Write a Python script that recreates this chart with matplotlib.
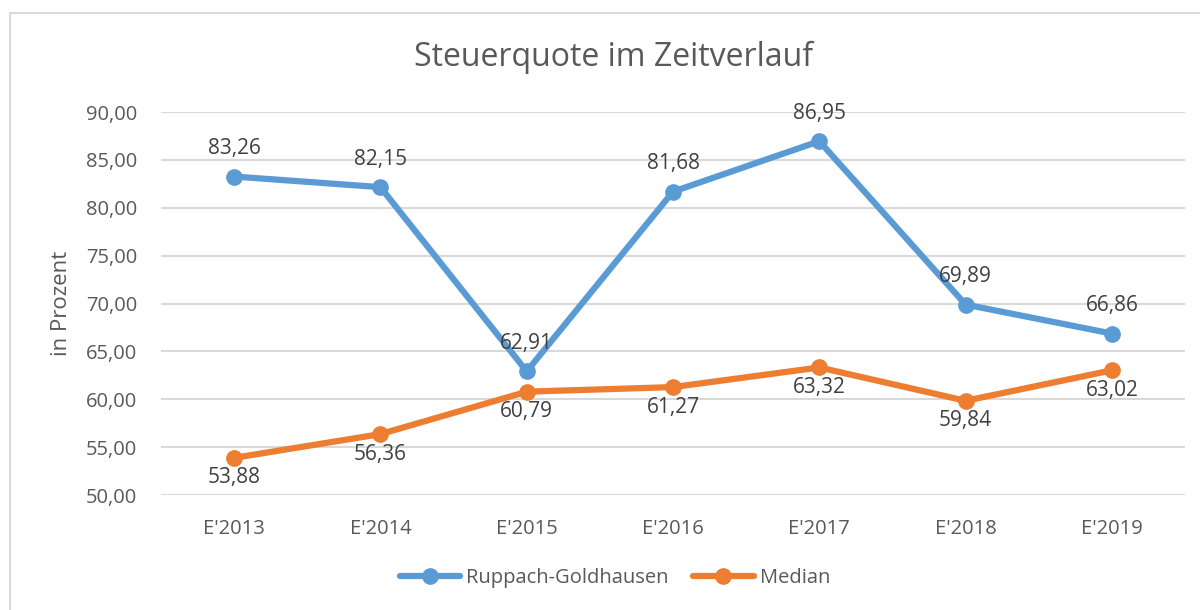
import matplotlib
matplotlib.use('Agg')
import matplotlib.pyplot as plt
from matplotlib.patches import Rectangle

# Daten
jahre = ["E'2013", "E'2014", "E'2015", "E'2016", "E'2017", "E'2018", "E'2019"]
ruppach = [83.26, 82.15, 62.91, 81.68, 86.95, 69.89, 66.86]
median = [53.88, 56.36, 60.79, 61.27, 63.32, 59.84, 63.02]
y_ticks = [50, 55, 60, 65, 70, 75, 80, 85, 90]

blau = '#5B9BD5'
orange = '#ED7D31'
text_farbe = '#595959'
label_farbe = '#404040'

plt.rcParams['font.family'] = ['Open Sans', 'DejaVu Sans']

fig = plt.figure(figsize=(12, 6.1), dpi=100)
# Rahmen des Diagrammbereichs (rechts/unten abgeschnitten)
fig.patches.append(Rectangle((10 / 1200, -0.05), 1.2, 1 - 13 / 610 + 0.05,
                             transform=fig.transFigure, fill=False,
                             edgecolor='#d9d9d9', linewidth=1.5))

ax = fig.add_axes([161 / 1200, 1 - 495 / 610, 1024 / 1200, 383 / 610])
x = list(range(len(jahre)))

ax.plot(x, ruppach, color=blau, linewidth=4.5, marker='o', markersize=11,
        solid_capstyle='round', label='Ruppach-Goldhausen', zorder=3)
ax.plot(x, median, color=orange, linewidth=4.5, marker='o', markersize=11,
        solid_capstyle='round', label='Median', zorder=3)

# Datenbeschriftungen
for xi, v in zip(x, ruppach):
    ax.annotate(f"{v:.2f}".replace('.', ','), (xi, v), xytext=(0, 20),
                textcoords='offset points', ha='center', va='center',
                fontsize=15, color=label_farbe, zorder=4)
for xi, v in zip(x, median):
    ax.annotate(f"{v:.2f}".replace('.', ','), (xi, v), xytext=(0, -14.5),
                textcoords='offset points', ha='center', va='center',
                fontsize=15, color=label_farbe, zorder=4)

ax.set_xlim(-0.5, len(jahre) - 0.5)
ax.set_ylim(50, 90)
ax.set_yticks(y_ticks)
ax.set_yticklabels([f"{t:.2f}".replace('.', ',') for t in y_ticks])
ax.set_xticks(x)
ax.set_xticklabels(jahre)
ax.tick_params(axis='both', length=0, labelsize=14.5, colors=text_farbe)
ax.tick_params(axis='x', pad=17)
ax.tick_params(axis='y', pad=17)
ax.grid(axis='y', color='#d9d9d9', linewidth=1.5)
ax.set_axisbelow(True)
for s in ax.spines.values():
    s.set_visible(False)

ax.set_ylabel('in Prozent', fontsize=16, color=text_farbe, labelpad=10)

fig.text(613 / 1200, 1 - 57 / 610, 'Steuerquote im Zeitverlauf', ha='center',
         va='center', fontsize=23, color=text_farbe)

fig.legend(loc='center', bbox_to_anchor=(615 / 1200, 1 - 578 / 610), ncol=2,
           frameon=False, fontsize=14.5, labelcolor=text_farbe,
           handlelength=3, columnspacing=1.2, handletextpad=0.3)

fig.savefig('out.png', dpi=100)
